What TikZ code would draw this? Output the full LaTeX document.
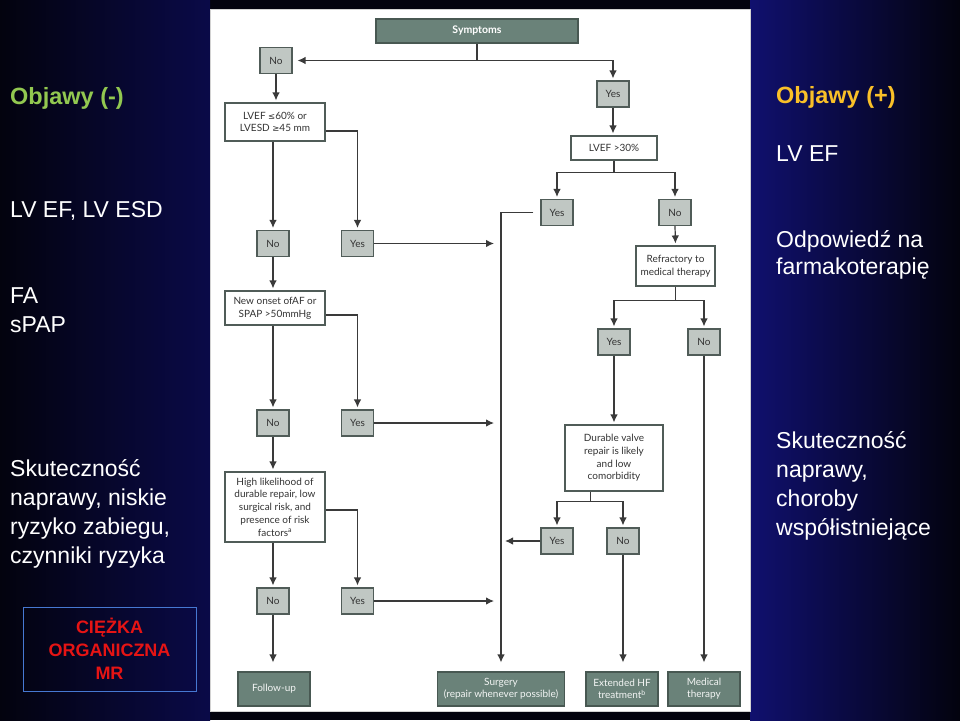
\documentclass[tikz,border=0pt]{standalone}
\usepackage{fontspec}
\setmainfont{Liberation Sans}
\newfontfamily\chartfont{Lato}
\newfontfamily\symfont{DejaVu Sans}
\usetikzlibrary{arrows.meta,positioning}

\definecolor{bgdark}{RGB}{3,3,14}
\definecolor{bgleftblue}{RGB}{10,10,72}
\definecolor{bgrightblue}{RGB}{16,16,110}
\definecolor{darkbox}{RGB}{106,130,121}
\definecolor{darkboxline}{RGB}{72,88,82}
\definecolor{lightbox}{RGB}{192,199,195}
\definecolor{boxline}{RGB}{80,92,88}
\definecolor{linegray}{RGB}{58,58,58}
\definecolor{greenhead}{RGB}{146,200,80}
\definecolor{goldhead}{RGB}{250,192,40}
\definecolor{boxblue}{RGB}{70,120,210}
\definecolor{redtext}{RGB}{230,20,20}

\begin{document}
\begin{tikzpicture}[x=1pt,y=-1pt,
    yesno/.style={draw=boxline, fill=lightbox, line width=1.1pt, minimum width=32pt,
      minimum height=26pt, inner sep=0pt, font=\chartfont\fontsize{10}{12.7}\selectfont, text=black!80},
    decision/.style={draw=boxline, fill=white, line width=1.1pt, inner sep=0pt, align=center,
      font=\chartfont\fontsize{10}{12.7}\selectfont, text=black!80},
    outcome/.style={draw=darkboxline, fill=darkbox, line width=1.1pt, inner sep=0pt, align=center,
      minimum height=34pt, font=\chartfont\fontsize{10}{12}\selectfont, text=white!92!darkbox},
    headbox/.style={draw=darkboxline, fill=darkbox, line width=1.1pt, inner sep=0pt,
      minimum width=202pt, minimum height=24pt, font=\chartfont\bfseries\fontsize{10.5}{12}\selectfont, text=white},
    line/.style={draw=linegray, line width=1.2pt},
    arr/.style={line, -{Latex[length=8pt,width=7.5pt]}, shorten >=2pt},
    sidehead/.style={anchor=base west, inner sep=0pt, font=\bfseries\fontsize{23.5}{28}\selectfont},
    sidetext/.style={anchor=base west, inner sep=0pt, align=left, text=white,
      font=\fontsize{23}{28.8}\selectfont}]

  \useasboundingbox (0,0) rectangle (960,720);
  % background and white panel
  \fill[bgdark] (0,0) rectangle (960,720);
  \fill[left color=bgdark, right color=bgleftblue] (0,0) rectangle (210,720);
  \fill[left color=bgrightblue, right color=bgdark] (750,0) rectangle (960,720);
  \filldraw[fill=white, draw=gray!35, line width=1pt] (210,9) rectangle (750,711);

  % flowchart boxes
  \node[headbox] (symptoms) at (477,31) {Symptoms};
  \node[yesno] (no1) at (276,60.5) {No};
  \node[yesno] (yes1) at (613,94) {Yes};
  \node[decision, minimum width=100pt, minimum height=38pt] (lvef60) at (275,122)
    {LVEF {\symfont\fontsize{8.5}{10}\selectfont≤}60\% or\\LVESD {\symfont\fontsize{8.5}{10}\selectfont≥}45 mm};
  \node[decision, minimum width=86pt, minimum height=24pt] (lvef30) at (614,148) {LVEF >30\%};
  \node[yesno] (yes3) at (557,212.5) {Yes};
  \node[yesno] (no3) at (675,212.5) {No};
  \node[yesno] (no2) at (273,243.5) {No};
  \node[yesno] (yes2) at (357.5,243.5) {Yes};
  \node[decision, minimum width=79pt, minimum height=40pt] (refract) at (675.5,266) {Refractory to\\medical therapy};
  \node[decision, minimum width=100pt, minimum height=34pt] (newaf) at (275,308) {New onset ofAF or\\SPAP >50mmHg};
  \node[yesno] (yes5) at (614,342) {Yes};
  \node[yesno] (no5) at (704,342) {No};
  \node[yesno] (no4) at (273,423) {No};
  \node[yesno] (yes4) at (357.5,423) {Yes};
  \node[decision, minimum width=98pt, minimum height=66pt] (durable) at (614,458)
    {Durable valve\\repair is likely\\and low\\comorbidity};
  \node[decision, minimum width=100pt, minimum height=70pt] (likely) at (275,507)
    {High likelihood of\\durable repair, low\\surgical risk, and\\presence of risk\\factors\textsuperscript{a}};
  \node[yesno] (yes7) at (557,541) {Yes};
  \node[yesno] (no7) at (623,541) {No};
  \node[yesno] (no6) at (273,601) {No};
  \node[yesno] (yes6) at (357.5,601) {Yes};
  \node[outcome, minimum width=72pt] (followup) at (274,689) {Follow-up};
  \node[outcome, minimum width=127pt] (surgery) at (501,689) {Surgery\\(repair whenever possible)};
  \node[outcome, minimum width=72pt] (extended) at (622,689) {Extended HF\\treatment\textsuperscript{b}};
  \node[outcome, minimum width=72pt] (medical) at (704,689) {Medical\\therapy};

  % connectors, symptomatic branch
  \draw[line] (symptoms.south) -- (symptoms.south |- no1) coordinate (splitsym);
  \draw[arr, shorten >=5pt] (splitsym) -- (no1.east);
  \draw[arr] (splitsym) -| (yes1.north);
  \draw[arr] (yes1.south) -- (yes1.south |- lvef30.north);
  \draw[line] (lvef30.south) -- ++(0,12) coordinate (split30);
  \draw[arr] (split30) -| (yes3.north);
  \draw[arr] (split30) -| (no3.north);
  \draw[arr, shorten <=7pt, shorten >=9pt] (yes3.west) -| (surgery.north);
  \draw[arr] (no3.south) -- (refract.north);
  \draw[line] (refract.south) -- ++(0,14) coordinate (splitref);
  \draw[arr] (splitref) -| (yes5.north);
  \draw[arr] (splitref) -| (no5.north);
  \draw[arr] (yes5.south) -- (durable.north);
  \draw[arr, shorten >=9pt] (no5.south) -- (medical.north);
  \draw[line] ([xshift=-23.5pt]durable.south) -- ++(0,10) coordinate (splitdur);
  \draw[arr] (splitdur) -| (yes7.north);
  \draw[arr] (splitdur) -| (no7.north);
  \draw[arr, shorten >=4pt] (yes7.west) -- (yes7.west -| surgery.north);
  \draw[arr, shorten >=9pt] (no7.south) -- (no7.south |- extended.north);

  % connectors, asymptomatic branch
  \draw[arr] (no1.south) -- (no1.south |- lvef60.north);
  \draw[arr] (no2 |- lvef60.south) -- (no2.north);
  \draw[arr] ([yshift=-9pt]lvef60.east) -| (yes2.north);
  \draw[arr, shorten >=7pt] (yes2.east) -- (yes2.east -| surgery.north);
  \draw[arr] (no2.south) -- (no2.south |- newaf.north);
  \draw[arr] (no4 |- newaf.south) -- (no4.north);
  \draw[arr] ([yshift=-7pt]newaf.east) -| (yes4.north);
  \draw[arr, shorten >=7pt] (yes4.east) -- (yes4.east -| surgery.north);
  \draw[arr] (no4.south) -- (no4.south |- likely.north);
  \draw[arr] (no6 |- likely.south) -- (no6.north);
  \draw[arr] ([yshift=-3pt]likely.east) -| (yes6.north);
  \draw[arr, shorten >=7pt] (yes6.east) -- (yes6.east -| surgery.north);
  \draw[arr, shorten >=9pt] (no6.south) -- (no6.south |- followup.north);

  % side notes (multi-line nodes sit on their last baseline)
  \node[sidehead, text=greenhead] (objminus) at (10,104) {Objawy (-)};
  \node[sidetext] (lvlabel) at (10,217) {LV EF, LV ESD};
  \node[sidetext] (falabel) at (10,332) {FA\\sPAP};
  \node[sidetext] (skutleft) at (10,563) {Skuteczność\\naprawy, niskie\\ryzyko zabiegu,\\czynniki ryzyka};
  \node[draw=boxblue, line width=1pt, minimum width=173pt, minimum height=84pt, inner sep=0pt,
    align=center, text=redtext, font=\bfseries\fontsize{18}{23}\selectfont] (severe) at (109.5,649)
    {CIĘŻKA\\ORGANICZNA\\MR};
  \node[sidehead, text=goldhead] (objplus) at (776,103) {Objawy (+)};
  \node[sidetext] (lvefright) at (776,161) {LV EF};
  \node[sidetext, font=\fontsize{23}{26.5}\selectfont] (odp) at (776,274) {Odpowiedź na\\farmakoterapię};
  \node[sidetext] (skutright) at (776,535) {Skuteczność\\naprawy,\\choroby\\współistniejące};
\end{tikzpicture}
\end{document}
